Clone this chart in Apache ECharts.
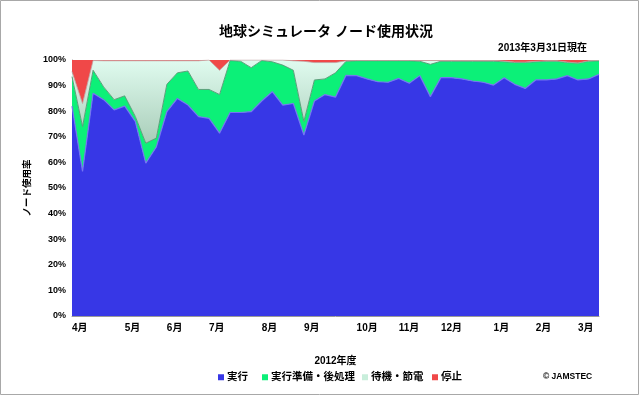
<!DOCTYPE html>
<html>
<head>
<meta charset="utf-8">
<script src="https://cdn.jsdelivr.net/npm/echarts@6/dist/echarts.min.js"></script>
<style>
html,body{margin:0;padding:0;background:#fff;}
#c{width:640px;height:396px;}
</style>
</head>
<body>
<div id="c"></div>
<script>
// ---- data (weekly, FY2012) ----
const monthLabels = ['4月','5月','6月','7月','8月','9月','10月','11月','12月','1月','2月','3月'];
const monthStartWeek = [0,5,9,13,18,22,27,31,35,40,44,48];
const weekCount = 51;
const weeks = Array.from({length: weekCount}, (_, i) => 'W' + (i + 1));

const running = [82,56.5,87,84.5,80.5,82,76,59.7,66,79.8,85,82.4,77.9,77.2,71.4,79.5,79.5,79.8,84,87.6,82.4,83,70.7,84,86.5,85.5,94,93.9,92.6,91.5,91.3,92.8,90.9,93.9,85.7,93.1,93.1,92.6,91.8,91.3,90.2,93.1,90.5,88.9,92.2,92.2,92.6,93.9,92.2,92.6,94.4];
const preparing = [11.5,17.5,9,5,4,4,2,7.8,3.5,10.7,10,13.3,10.6,11.3,15.1,20.3,20,17.2,15.8,11.7,15.6,13,5.3,8.2,6.1,9.5,5.5,5.8,7.1,8.2,8.4,6.9,8.8,5.6,12.6,6.4,6.4,6.9,7.7,8.2,9.3,6.2,8.5,10.1,7.1,7.3,6.9,5.1,6.6,6.9,5.3];
const standby = [2,9,3.8,10.2,15.2,13.7,21.7,32.2,30.2,9.2,4.7,4,11.2,11.5,9.5,0.2,0.5,3,0.2,0.7,2,3.7,23.5,6.8,6.4,4,0.2,0.1,0.1,0.1,0.1,0.1,0.1,0.3,1.5,0.3,0.3,0.3,0.3,0.3,0.3,0.3,0.2,0.2,0.2,0.2,0.2,0.2,0,0.2,0.1];
const stopped = [4.5,17,0.2,0.3,0.3,0.3,0.3,0.3,0.3,0.3,0.3,0.3,0.3,0,4,0,0,0,0,0,0,0.3,0.5,1,1,1,0.3,0.2,0.2,0.2,0.2,0.2,0.2,0.2,0.2,0.2,0.2,0.2,0.2,0.2,0.2,0.4,0.8,0.8,0.5,0.3,0.3,0.8,1.2,0.3,0.2];

const yTicks = [0,10,20,30,40,50,60,70,80,90,100];
const seriesNames = ['実行','実行準備・後処理','待機・節電','停止'];

const FONT = "'Liberation Sans', 'Noto Sans CJK JP', sans-serif";
const labelByWeek = {};
monthStartWeek.forEach((w, k) => { labelByWeek[w] = monthLabels[k]; });

const chart = echarts.init(document.getElementById('c'), null, {renderer: 'canvas'});

function legendItem(name, left) {
  return {
    data: [{name: name, icon: 'rect'}],
    left: left, top: 372,
    itemWidth: 6, itemHeight: 6, itemGap: 0,
    padding: 0,
    textStyle: {fontFamily: FONT, fontSize: 10.5, fontWeight: 'bold', color: '#000', padding: [0,0,0,-2]},
    selectedMode: false
  };
}

chart.setOption({
  animation: false,
  backgroundColor: '#fff',
  color: ['#3737e6','#0cf078','#c8eedb','#f04848'],
  title: {
    text: '地球シミュレータ ノード使用状況',
    left: 214, top: 20,
    textStyle: {fontFamily: FONT, fontSize: 14, fontWeight: 'bold', color: '#000'}
  },
  legend: [
    legendItem(seriesNames[0], 218),
    legendItem(seriesNames[1], 262),
    legendItem(seriesNames[2], 362),
    legendItem(seriesNames[3], 432)
  ],
  grid: {left: 72, right: 41, top: 60, bottom: 80, containLabel: false},
  xAxis: {
    type: 'category',
    data: weeks,
    boundaryGap: false,
    name: '2012年度',
    nameLocation: 'middle',
    nameGap: 40,
    nameTextStyle: {fontFamily: FONT, fontSize: 10, fontWeight: 'bold', color: '#000'},
    axisLine: {show: true, lineStyle: {color: '#9a9a9a'}},
    axisTick: {show: false},
    axisLabel: {
      interval: 0,
      align: 'left',
      margin: 7,
      fontFamily: FONT, fontSize: 10, fontWeight: 'bold', color: '#000',
      formatter: (v, i) => labelByWeek[i] || ''
    },
    splitLine: {show: false}
  },
  yAxis: {
    type: 'value',
    min: yTicks[0], max: yTicks[yTicks.length - 1], interval: 10,
    name: 'ノード使用率',
    nameLocation: 'middle',
    nameRotate: 90,
    nameGap: 28,
    nameTextStyle: {fontFamily: FONT, fontSize: 9.5, fontWeight: 'bold', color: '#000'},
    axisLine: {show: true, lineStyle: {color: '#9a9a9a'}},
    axisTick: {show: false},
    axisLabel: {fontFamily: FONT, fontSize: 9, fontWeight: 'bold', color: '#000', margin: 6, formatter: '{value}%'},
    splitLine: {show: false}
  },
  series: [
    {
      name: seriesNames[0], type: 'line', stack: 'total', data: running,
      symbol: 'none', smooth: false,
      lineStyle: {width: 1.2, color: '#7474f2'},
      areaStyle: {color: '#3737e6', opacity: 1}
    },
    {
      name: seriesNames[1], type: 'line', stack: 'total', data: preparing,
      symbol: 'none', smooth: false,
      lineStyle: {width: 1, color: '#5aa07a'},
      areaStyle: {color: '#0cf078', opacity: 1}
    },
    {
      name: seriesNames[2], type: 'line', stack: 'total', data: standby,
      symbol: 'none', smooth: false,
      lineStyle: {width: 0.8, color: '#c0a0a0'},
      areaStyle: {
        opacity: 1,
        color: new echarts.graphic.LinearGradient(0, 0, 0, 1, [
          {offset: 0, color: '#e0fbef'},
          {offset: 1, color: '#a9cdb9'}
        ])
      }
    },
    {
      name: seriesNames[3], type: 'line', stack: 'total', data: stopped,
      symbol: 'none', smooth: false,
      lineStyle: {width: 0},
      areaStyle: {color: '#f04848', opacity: 1}
    }
  ],
  graphic: [
    {
      type: 'rect', silent: true,
      shape: {x: 0.5, y: 0.5, width: 638, height: 394},
      style: {fill: 'none', stroke: '#a8a8a8', lineWidth: 1}
    },
    {
      type: 'text', right: 53, top: 43,
      style: {text: '2013年3月31日現在', font: "bold 10px 'Liberation Sans', 'Noto Sans CJK JP', sans-serif", fill: '#000'}
    },
    {
      type: 'text', left: 543, top: 372,
      style: {text: '© JAMSTEC', font: "bold 8.5px 'Liberation Sans', 'Noto Sans CJK JP', sans-serif", fill: '#000'}
    }
  ]
});
</script>
</body>
</html>
